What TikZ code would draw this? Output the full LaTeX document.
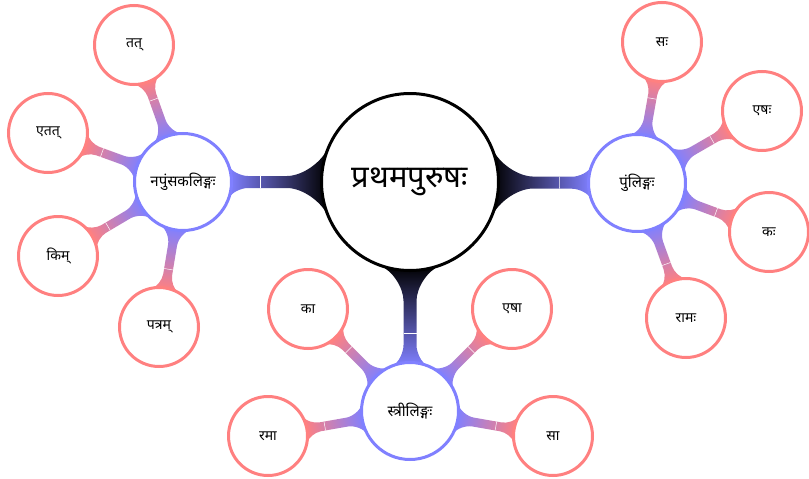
\documentclass[tikz,border=0pt]{standalone}
\usepackage{fontspec}
\newfontfamily\deva[Script=Devanagari]{Noto Sans}
\definecolor{redc}{HTML}{FF8080}
\definecolor{bluec}{HTML}{8080FF}
\pgfdeclarelayer{bg}
\pgfsetlayers{bg,main}
% \conn{parent}{child}{R}{r}{neck half}{flare parent}{flare child}{col parent}{col child}
\newcommand\conn[9]{%
 \pgfpointanchor{#1}{center}\pgfgetlastxy{\cnax}{\cnay}%
 \pgfpointanchor{#2}{center}\pgfgetlastxy{\cnbx}{\cnby}%
 \pgfmathsetmacro\cnang{atan2(\cnby-\cnay,\cnbx-\cnax)}%
 \pgfmathsetmacro\cnlen{veclen(\cnbx-\cnax,\cnby-\cnay)}%
 \pgfmathsetmacro\cnR{#3}\pgfmathsetmacro\cnr{#4}\pgfmathsetmacro\cnh{#5}%
 \pgfmathsetmacro\cnwa{#6}\pgfmathsetmacro\cnwb{#7}%
 % parent side
 \pgfmathsetmacro\cnpa{\cnR*cos(asin(\cnwa/\cnR))}%
 \pgfmathsetmacro\cnka{0.55*(\cnwa-\cnh)}%
 \pgfmathsetmacro\cnpx{\cnpa+\cnka*\cnwa/\cnR}%
 \pgfmathsetmacro\cnpy{\cnwa-\cnka*\cnpa/\cnR}%
 \pgfmathsetmacro\cnpb{\cnR+1.0*\cnwa}%
 \pgfmathsetmacro\cnpc{\cnpb-0.45*\cnwa}%
 % child side
 \pgfmathsetmacro\cnqa{\cnlen-\cnr*cos(asin(\cnwb/\cnr))}%
 \pgfmathsetmacro\cnkb{0.55*(\cnwb-\cnh)}%
 \pgfmathsetmacro\cnqx{\cnqa-\cnkb*\cnwb/\cnr}%
 \pgfmathsetmacro\cnqy{\cnwb-\cnkb*(\cnlen-\cnqa)/\cnr}%
 \pgfmathsetmacro\cnqb{\cnlen-\cnr-1.0*\cnwb}%
 \pgfmathsetmacro\cnqc{\cnqb+0.45*\cnwb}%
 \pgfmathsetmacro\cnseam{\cnR+0.68*(\cnlen-\cnr-\cnR)}%
 \begin{pgfonlayer}{bg}
 \begin{scope}[transform canvas={shift={(\cnax,\cnay)},rotate=\cnang}]
   \shade[left color=#8,right color=#9]
     (\cnpa pt,\cnwa pt) .. controls (\cnpx pt,\cnpy pt) and (\cnpc pt,\cnh pt) .. (\cnpb pt,\cnh pt)
     -- (\cnqb pt,\cnh pt) .. controls (\cnqc pt,\cnh pt) and (\cnqx pt,\cnqy pt) .. (\cnqa pt,\cnwb pt)
     -- (\cnqa pt,-\cnwb pt) .. controls (\cnqx pt,-\cnqy pt) and (\cnqc pt,-\cnh pt) .. (\cnqb pt,-\cnh pt)
     -- (\cnpb pt,-\cnh pt) .. controls (\cnpc pt,-\cnh pt) and (\cnpx pt,-\cnpy pt) .. (\cnpa pt,-\cnwa pt) -- cycle;
   \draw[white, line width=0.5pt] (\cnseam pt,\cnh pt) -- (\cnseam pt,-\cnh pt);
 \end{scope}
 \end{pgfonlayer}}
\tikzset{
  mainc/.style={circle, draw=black, line width=3pt, fill=white, minimum size=177pt, inner sep=0pt, font=\deva\fontsize{31}{34}\selectfont},
  bluenode/.style={circle, draw=bluec, line width=3pt, fill=white, minimum size=97pt, inner sep=0pt, font=\deva\fontsize{15}{18}\selectfont},
  rednode/.style={circle, draw=redc, line width=3pt, fill=white, minimum size=79pt, inner sep=0pt, font=\deva\fontsize{14}{17}\selectfont},
}
\begin{document}
\begin{tikzpicture}[x=1pt,y=-1pt]
\useasboundingbox (0,0) rectangle (809,479);
\node[mainc] (C) at (410,182) {प्रथमपुरुषः};
\node[bluenode] (L) at (183,182) {नपुंसकलिङ्गः};
\node[bluenode] (R) at (637,183) {पुंलिङ्गः};
\node[bluenode] (B) at (410,411) {स्त्रीलिङ्गः};
\node[rednode] (tat) at (134,45) {तत्};
\node[rednode] (etat) at (48,133) {एतत्};
\node[rednode] (kim) at (58,256) {किम्};
\node[rednode] (patram) at (159,327) {पत्रम्};
\node[rednode] (sah) at (662,42) {सः};
\node[rednode] (eshah) at (762,111) {एषः};
\node[rednode] (kah) at (769,232) {कः};
\node[rednode] (ramah) at (686,318) {रामः};
\node[rednode] (kaa) at (308,309) {का};
\node[rednode] (eshaa) at (512,309) {एषा};
\node[rednode] (ramaa) at (268,436) {रमा};
\node[rednode] (saa) at (553,436) {सा};
\conn{C}{L}{89}{49}{6}{34}{16}{black}{bluec}
\conn{C}{R}{89}{49}{6}{34}{16}{black}{bluec}
\conn{C}{B}{89}{49}{6.5}{30}{17}{black}{bluec}
\conn{L}{tat}{49}{40}{4.5}{15}{13}{bluec}{redc}
\conn{L}{etat}{49}{40}{4.5}{15}{13}{bluec}{redc}
\conn{L}{kim}{49}{40}{4.5}{15}{13}{bluec}{redc}
\conn{L}{patram}{49}{40}{4.5}{15}{13}{bluec}{redc}
\conn{R}{sah}{49}{40}{4.5}{15}{13}{bluec}{redc}
\conn{R}{eshah}{49}{40}{4.5}{15}{13}{bluec}{redc}
\conn{R}{kah}{49}{40}{4.5}{15}{13}{bluec}{redc}
\conn{R}{ramah}{49}{40}{4.5}{15}{13}{bluec}{redc}
\conn{B}{kaa}{49}{40}{4.5}{15}{13}{bluec}{redc}
\conn{B}{eshaa}{49}{40}{4.5}{15}{13}{bluec}{redc}
\conn{B}{ramaa}{49}{40}{4.5}{15}{13}{bluec}{redc}
\conn{B}{saa}{49}{40}{4.5}{15}{13}{bluec}{redc}
\end{tikzpicture}
\end{document}
